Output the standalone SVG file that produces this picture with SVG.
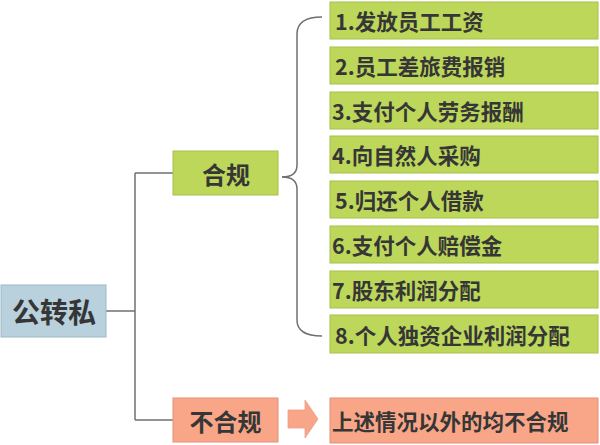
<svg xmlns="http://www.w3.org/2000/svg" width="600" height="445" viewBox="0 0 600 445">
<defs>
<style>
.t{font-family:"Noto Sans CJK SC","Liberation Sans",sans-serif;font-weight:bold;fill:#363636;dominant-baseline:central}
.s{font-size:21.5px}
.g{fill:#bcd75a;stroke:#a8bf4c;stroke-width:1}
.o{fill:#f9a688;stroke:#e0927a;stroke-width:1}
.b{fill:#b8d1dc;stroke:#9cb9c6;stroke-width:1}
.ln{fill:none;stroke:#707070;stroke-width:1.5}
</style>
</defs>
<rect width="600" height="445" fill="#ffffff"/>
<g id="connectors">
<path class="ln" d="M106,311 H135 M135,173 V420 M135,173 H173 M135,420 H173"/>
<path class="ln" d="M282,177 Q297,177 297,165 V34 Q297,17 322,17"/>
<path class="ln" d="M282,177 Q297,177 297,189 V320 Q297,336 322,336"/>
<polygon id="arrow" points="288,410 305,410 305,400 318,419 305,438 305,428 288,428" fill="#f9a688" stroke="#e8a08a" stroke-width="0.8"/>
</g>
<g id="root"><rect class="b" x="1" y="285" width="105" height="52"/><text class="t" x="54" y="311" font-size="28" text-anchor="middle">公转私</text></g>
<g id="hegui"><rect class="g" x="173" y="151" width="105" height="44"/><text class="t" x="226" y="173" font-size="24" text-anchor="middle">合规</text></g>
<g id="buhegui"><rect class="o" x="173" y="398" width="105" height="44"/><text class="t" x="225.5" y="420" font-size="24" text-anchor="middle">不合规</text></g>
<g id="n1"><rect class="g" x="330" y="2" width="268" height="37"/><text class="t s" x="335" y="20.5">1.发放员工工资</text></g>
<g id="n2"><rect class="g" x="330" y="47" width="268" height="37"/><text class="t s" x="335" y="65.5">2.员工差旅费报销</text></g>
<g id="n3"><rect class="g" x="330" y="92" width="268" height="37"/><text class="t s" x="332" y="110.5">3.支付个人劳务报酬</text></g>
<g id="n4"><rect class="g" x="330" y="136" width="268" height="37"/><text class="t s" x="332" y="154.5">4.向自然人采购</text></g>
<g id="n5"><rect class="g" x="330" y="181" width="268" height="37"/><text class="t s" x="335" y="199.5">5.归还个人借款</text></g>
<g id="n6"><rect class="g" x="330" y="226" width="268" height="37"/><text class="t s" x="332" y="244.5">6.支付个人赔偿金</text></g>
<g id="n7"><rect class="g" x="330" y="271" width="268" height="37"/><text class="t s" x="332" y="289.5">7.股东利润分配</text></g>
<g id="n8"><rect class="g" x="330" y="315" width="268" height="38"/><text class="t s" x="335" y="334">8.个人独资企业利润分配</text></g>
<g id="n9"><rect class="o" x="330" y="398" width="268" height="45"/><text class="t s" x="332" y="420.5">上述情况以外的均不合规</text></g>
</svg>
